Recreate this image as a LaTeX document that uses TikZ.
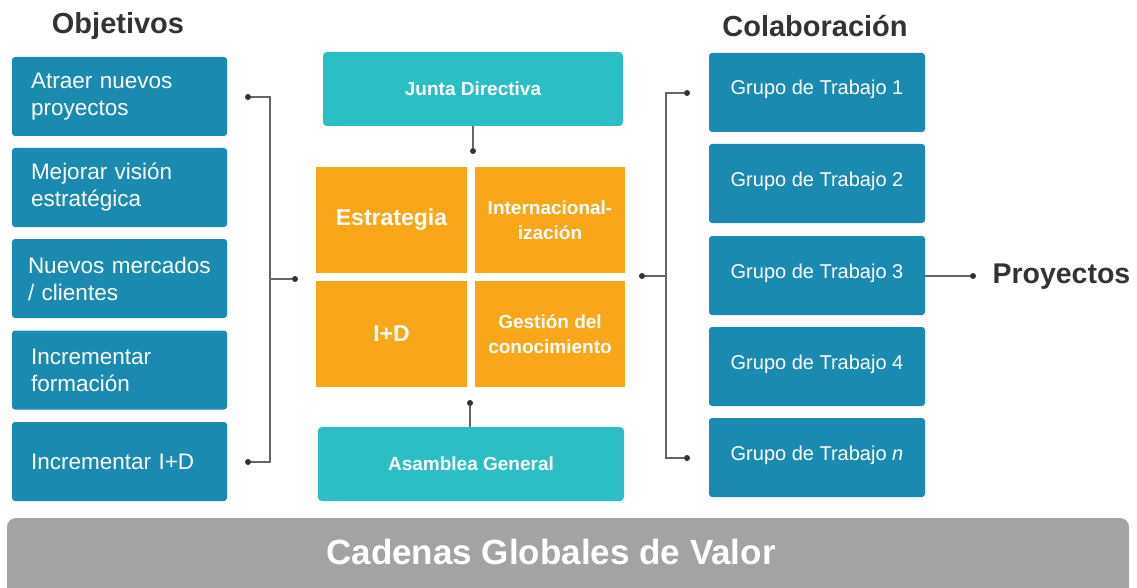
\documentclass[tikz,border=0pt]{standalone}
\usepackage{fontspec}
\setmainfont{Liberation Sans}
\definecolor{goalblue}{HTML}{1A8AB0}
\definecolor{boardteal}{HTML}{2BBFC5}
\definecolor{areaorange}{HTML}{F9A61B}
\definecolor{chaingray}{HTML}{A3A3A3}
\definecolor{titlegray}{HTML}{333333}
\definecolor{linegray}{HTML}{666666}
\newcommand{\fs}[2]{\fontsize{#1}{#2}\selectfont}

\begin{document}
\begin{tikzpicture}[x=1pt,y=-1pt]
        %
        % `goal' is used for the boxes on the left, `group' for the ones on the right.
        % `board' is used for the two teal boxes, `area' for the orange squares.
        % `dot' is used for the ends of the connectors.
        \tikzstyle{goal} = [fill=goalblue,text=white,rounded corners=3pt,minimum width=215pt,minimum height=79pt,inner xsep=19pt,text width=177pt,align=left,font=\fs{22.5}{27}]
        \tikzstyle{group} = [fill=goalblue,text=white,rounded corners=3pt,minimum width=216pt,minimum height=79pt,text height=15pt,text depth=10pt,font=\fs{20}{24}]
        \tikzstyle{board} = [fill=boardteal,text=white,rounded corners=4pt,minimum height=74pt,font=\bfseries\fs{19}{23}]
        \tikzstyle{area} = [fill=areaorange,text=white,minimum width=151pt,minimum height=106pt,align=center,font=\bfseries\fs{19}{25}]
        \tikzstyle{title} = [text=titlegray,font=\bfseries\fs{29}{34}]
        \tikzstyle{dot} = [fill=titlegray,shape=circle,minimum size=6pt,inner sep=0pt]
        \tikzstyle{conn} = [draw=linegray,line width=1.2pt]
        \useasboundingbox (0,0) rectangle (1137,588);
        %
        % Titles
        \node[title] (objetivos) at (118,26) {Objetivos};
        \node[title] (colab) at (815,26) {Colaboración};
        %
        % Column 1
        \node[goal] (goal1) at (119.5,96.5) {Atraer nuevos\\proyectos};
        \node[goal] (goal2) at (119.5,187.5) {Mejorar visión\\estratégica};
        \node[goal] (goal3) at (119.5,278.5) {\hspace*{-3pt}\mbox{Nuevos mercados}\\\hspace*{-3pt}/ clientes};
        \node[goal] (goal4) at (119.5,370) {Incrementar\\formación};
        \node[goal] (goal5) at (119.5,461.5) {Incrementar I+D};
        %
        % Left connector
        \node[dot] (ldot1) at (248,97) {};
        \node[dot] (ldot5) at (248,462) {};
        \node[dot] (ldotc) at (295,279) {};
        \coordinate (ljoin) at (270,279);
        \draw[conn] (ldot1) -| (ljoin) |- (ldot5);
        \draw[conn] (ljoin) -- (ldotc);
        %
        % Column 2
        \node[board,minimum width=300pt] (junta) at (473,89) {Junta Directiva};
        \node[dot] (tdot) at (473,151) {};
        \draw[conn] (junta) -- (tdot);
        \node[area] (estrategia) at (391.5,220) {\fs{23}{27}Estrategia};
        \node[area,minimum width=150pt] (inter) at (550,220) {Internacional-\\ización};
        \node[area] (imasd) at (391.5,334) {\fs{23}{27}I+D};
        \node[area,minimum width=150pt] (gestion) at (550,334) {Gestión del\\conocimiento};
        \node[board,minimum width=306pt] (asamblea) at (471,464) {Asamblea General};
        \node[dot] (bdot) at (470,403) {};
        \draw[conn] (bdot) -- (bdot |- asamblea.north);
        %
        % Right connector
        \node[dot] (rdot1) at (687,93) {};
        \node[dot] (rdot5) at (687,458) {};
        \node[dot] (rdotc) at (642,276) {};
        \coordinate (rjoin) at (666,276);
        \draw[conn] (rdot1) -| (rjoin) |- (rdot5);
        \draw[conn] (rjoin) -- (rdotc);
        %
        % Column 3
        \node[group] (group1) at (817,92.5) {Grupo de Trabajo 1};
        \node[group] (group2) at (817,183.5) {Grupo de Trabajo 2};
        \node[group] (group3) at (817,275.5) {Grupo de Trabajo 3};
        \node[group] (group4) at (817,366.5) {Grupo de Trabajo 4};
        \node[group] (group5) at (817,457.5) {Grupo de Trabajo \textit{n}};
        %
        % Output
        \node[dot] (pdot) at (973,276) {};
        \draw[conn] (group3.east |- pdot) -- (pdot);
        \node[title,anchor=west,font=\bfseries\fs{28.5}{32}] (proyectos) at (989,277) {Proyectos};
        %
        % Base bar
        \fill[chaingray,rounded corners=9pt] (7,518) rectangle (1129,610);
        \node[text=white,font=\bfseries\fs{35}{40}] (cadenas) at (551,552) {Cadenas Globales de Valor};
        %
\end{tikzpicture}
\end{document}
